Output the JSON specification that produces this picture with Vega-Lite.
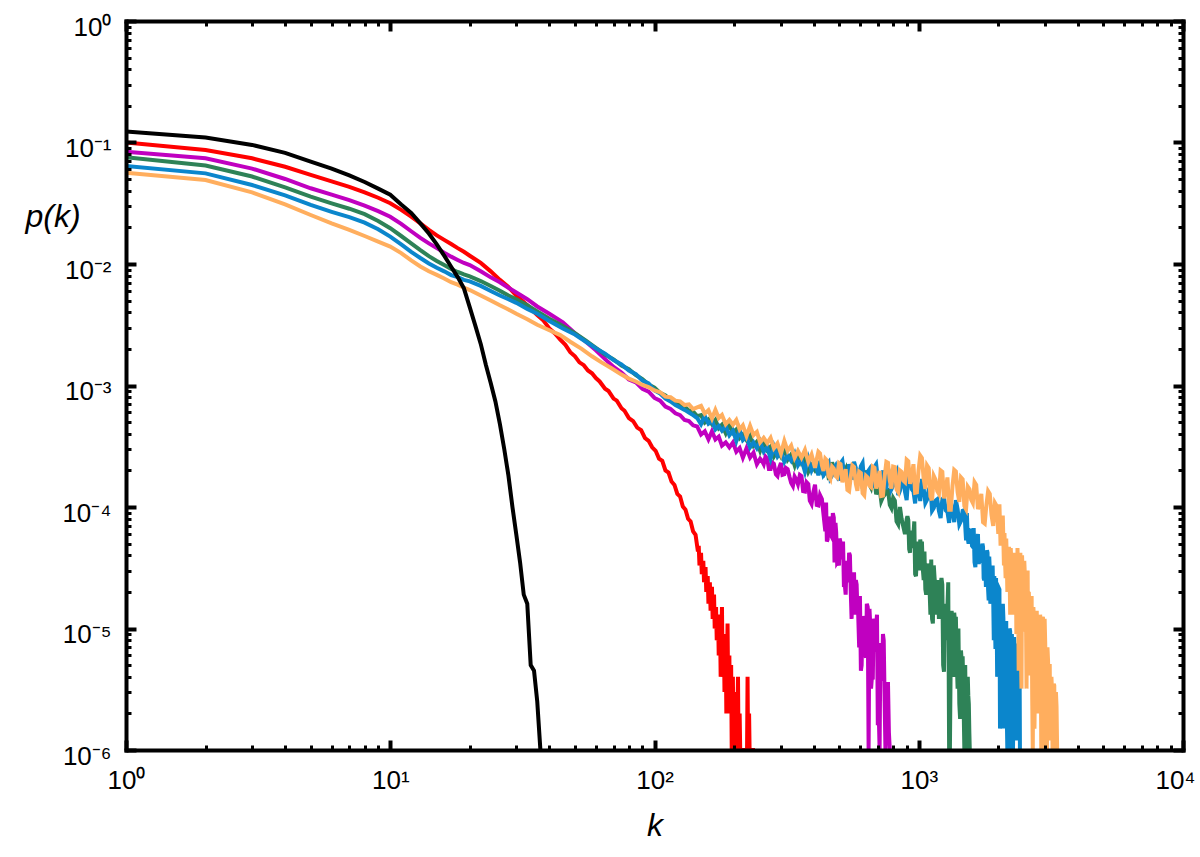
{
"$schema": "https://vega.github.io/schema/vega-lite/v6.json",
"width": 1057, "height": 729,
"autosize": {"type": "none"},
"padding": {"left": 126, "top": 21, "right": 17, "bottom": 107},
"background": "white",
"config": {"view": {"stroke": null}, "font": "Liberation Sans"},
"data": {"values": [
{"s":"red","k":1,"p":0.100},{"s":"red","k":2,"p":0.0867},{"s":"red","k":3,"p":0.0741},{"s":"red","k":4,"p":0.0631},{"s":"red","k":5,"p":0.0541},{"s":"red","k":6,"p":0.0479},{"s":"red","k":7,"p":0.0432},{"s":"red","k":8,"p":0.0389},{"s":"red","k":9,"p":0.0351},{"s":"red","k":10,"p":0.0316},
{"s":"red","k":11,"p":0.0279},{"s":"red","k":12,"p":0.0245},{"s":"red","k":13,"p":0.0216},{"s":"red","k":14,"p":0.0191},{"s":"red","k":15,"p":0.0172},{"s":"red","k":16,"p":0.0158},{"s":"red","k":17,"p":0.0146},{"s":"red","k":18,"p":0.0135},{"s":"red","k":19,"p":0.0126},{"s":"red","k":20,"p":0.0117},
{"s":"red","k":22,"p":0.0102},{"s":"red","k":24,"p":0.0087},{"s":"red","k":26,"p":0.0074},{"s":"red","k":28,"p":0.00646},{"s":"red","k":30,"p":0.0055},{"s":"red","k":33,"p":0.00457},{"s":"red","k":36,"p":0.0038},{"s":"red","k":38,"p":0.00342},{"s":"red","k":40,"p":0.00295},{"s":"red","k":42,"p":0.00268},
{"s":"red","k":44,"p":0.00238},{"s":"red","k":46,"p":0.00216},{"s":"red","k":48,"p":0.00188},{"s":"red","k":50,"p":0.00174},{"s":"red","k":52,"p":0.00155},{"s":"red","k":54,"p":0.00147},{"s":"red","k":56,"p":0.00133},{"s":"red","k":58,"p":0.00126},{"s":"red","k":60,"p":0.00115},{"s":"red","k":62,"p":0.00108},
{"s":"red","k":65,"p":0.00094},{"s":"red","k":67,"p":0.0009},{"s":"red","k":70,"p":0.00078},{"s":"red","k":72,"p":0.00075},{"s":"red","k":75,"p":0.00065},{"s":"red","k":77,"p":0.00062},{"s":"red","k":80,"p":0.00054},{"s":"red","k":83,"p":0.00051},{"s":"red","k":86,"p":0.00045},{"s":"red","k":89,"p":0.00043},
{"s":"red","k":92,"p":0.00037},{"s":"red","k":95,"p":0.00035},{"s":"red","k":98,"p":0.00031},{"s":"red","k":101,"p":0.00029},{"s":"red","k":104,"p":0.00025},{"s":"red","k":107,"p":0.00024},{"s":"red","k":110,"p":0.0002},{"s":"red","k":113,"p":0.000192},{"s":"red","k":116,"p":0.000162},{"s":"red","k":119,"p":0.000152},
{"s":"red","k":122,"p":0.000128},{"s":"red","k":125,"p":0.000122},{"s":"red","k":128,"p":0.000101},{"s":"red","k":131,"p":9.5e-5},{"s":"red","k":134,"p":8.0e-5},{"s":"red","k":137,"p":7.6e-5},{"s":"red","k":140,"p":6.3e-5},{"s":"red","k":143,"p":5.9e-5},{"s":"red","k":146,"p":4.3e-5},{"s":"red","k":147,"p":4.8e-5},
{"s":"red","k":148,"p":3.3e-5},{"s":"red","k":150,"p":4.2e-5},{"s":"red","k":151,"p":2.8e-5},{"s":"red","k":153,"p":3.6e-5},{"s":"red","k":154,"p":2.4e-5},{"s":"red","k":156,"p":3.2e-5},{"s":"red","k":157,"p":2.0e-5},{"s":"red","k":159,"p":2.7e-5},{"s":"red","k":160,"p":1.6e-5},{"s":"red","k":162,"p":2.4e-5},
{"s":"red","k":163,"p":1.4e-5},{"s":"red","k":165,"p":2.2e-5},{"s":"red","k":166,"p":1.2e-5},{"s":"red","k":168,"p":1.9e-5},{"s":"red","k":169,"p":1.0e-5},{"s":"red","k":171,"p":1.5e-5},{"s":"red","k":172,"p":8e-6},{"s":"red","k":174,"p":1.3e-5},{"s":"red","k":175,"p":6e-6},{"s":"red","k":177,"p":1.1e-5},
{"s":"red","k":178,"p":4e-6},{"s":"red","k":180,"p":1.5e-5},{"s":"red","k":181,"p":5e-6},{"s":"red","k":183,"p":9e-6},{"s":"red","k":184,"p":3e-6},{"s":"red","k":186,"p":8e-6},{"s":"red","k":187,"p":2e-6},{"s":"red","k":189,"p":1.1e-5},{"s":"red","k":190,"p":3e-6},{"s":"red","k":192,"p":6e-6},
{"s":"red","k":193,"p":2e-6},{"s":"red","k":195,"p":5e-6},{"s":"red","k":196,"p":1e-6},{"s":"red","k":198,"p":4e-6},{"s":"red","k":199,"p":1e-6},{"s":"red","k":201,"p":2e-6},{"s":"red","k":202,"p":1e-6},{"s":"red","k":204,"p":3e-6},{"s":"red","k":205,"p":1e-6},{"s":"red","k":207,"p":4e-6},
{"s":"red","k":208,"p":1e-6},{"s":"red","k":210,"p":2e-6},{"s":"red","k":211,"p":1e-6},{"s":"red","k":224,"p":1e-6},{"s":"red","k":225,"p":4e-6},{"s":"red","k":226,"p":1e-6},{"s":"red","k":228,"p":2e-6},{"s":"red","k":229,"p":1e-6},{"s":"red","k":240,"p":1e-6},

{"s":"magenta","k":1,"p":0.0839},{"s":"magenta","k":2,"p":0.0741},{"s":"magenta","k":3,"p":0.061},{"s":"magenta","k":4,"p":0.0501},{"s":"magenta","k":5,"p":0.042},{"s":"magenta","k":6,"p":0.0372},{"s":"magenta","k":7,"p":0.0335},{"s":"magenta","k":8,"p":0.0302},{"s":"magenta","k":9,"p":0.0272},{"s":"magenta","k":10,"p":0.0245},
{"s":"magenta","k":11,"p":0.0214},{"s":"magenta","k":12,"p":0.0186},{"s":"magenta","k":13,"p":0.0164},{"s":"magenta","k":14,"p":0.0148},{"s":"magenta","k":15,"p":0.0135},{"s":"magenta","k":16,"p":0.0124},{"s":"magenta","k":17,"p":0.0115},{"s":"magenta","k":18,"p":0.0108},{"s":"magenta","k":19,"p":0.0102},{"s":"magenta","k":20,"p":0.0098},
{"s":"magenta","k":22,"p":0.0087},{"s":"magenta","k":24,"p":0.00776},{"s":"magenta","k":26,"p":0.00708},{"s":"magenta","k":28,"p":0.00638},{"s":"magenta","k":30,"p":0.00582},{"s":"magenta","k":33,"p":0.00513},{"s":"magenta","k":36,"p":0.00447},{"s":"magenta","k":40,"p":0.00389},{"s":"magenta","k":45,"p":0.00331},{"s":"magenta","k":50,"p":0.00269},
{"s":"magenta","k":55,"p":0.00229},{"s":"magenta","k":60,"p":0.00195},{"s":"magenta","k":65,"p":0.00165},{"s":"magenta","k":70,"p":0.00142},{"s":"magenta","k":75,"p":0.00128},{"s":"magenta","k":80,"p":0.00112},{"s":"magenta","k":85,"p":0.00106},{"s":"magenta","k":90,"p":0.00094},{"s":"magenta","k":95,"p":0.00089},{"s":"magenta","k":100,"p":0.00079},
{"s":"magenta","k":105,"p":0.00075},{"s":"magenta","k":110,"p":0.00067},{"s":"magenta","k":115,"p":0.00064},{"s":"magenta","k":120,"p":0.00059},{"s":"magenta","k":125,"p":0.00057},{"s":"magenta","k":130,"p":0.00052},{"s":"magenta","k":135,"p":0.00051},{"s":"magenta","k":140,"p":0.00047},{"s":"magenta","k":145,"p":0.00046},
{"s":"magenta","k":150,"p":3.95e-4},{"s":"magenta","k":155,"p":4.2e-4},{"s":"magenta","k":160,"p":3.6e-4},{"s":"magenta","k":165,"p":4.2e-4},{"s":"magenta","k":170,"p":3.6e-4},{"s":"magenta","k":175,"p":3.8e-4},{"s":"magenta","k":180,"p":3.2e-4},{"s":"magenta","k":186,"p":3.4e-4},{"s":"magenta","k":192,"p":3.1e-4},{"s":"magenta","k":198,"p":3.4e-4},
{"s":"magenta","k":204,"p":2.85e-4},{"s":"magenta","k":210,"p":3.05e-4},{"s":"magenta","k":216,"p":2.55e-4},{"s":"magenta","k":223,"p":3.05e-4},{"s":"magenta","k":230,"p":2.55e-4},{"s":"magenta","k":237,"p":2.8e-4},{"s":"magenta","k":244,"p":2.25e-4},{"s":"magenta","k":251,"p":2.5e-4},{"s":"magenta","k":259,"p":2.25e-4},{"s":"magenta","k":267,"p":2.5e-4},
{"s":"magenta","k":275,"p":2.05e-4},{"s":"magenta","k":283,"p":2.27e-4},{"s":"magenta","k":292,"p":1.8e-4},{"s":"magenta","k":301,"p":2.3e-4},{"s":"magenta","k":310,"p":1.86e-4},{"s":"magenta","k":319,"p":2.05e-4},{"s":"magenta","k":329,"p":1.58e-4},{"s":"magenta","k":339,"p":1.78e-4},{"s":"magenta","k":349,"p":1.54e-4},{"s":"magenta","k":360,"p":1.8e-4},
{"s":"magenta","k":371,"p":1.34e-4},{"s":"magenta","k":382,"p":1.54e-4},{"s":"magenta","k":393,"p":1.06e-4},{"s":"magenta","k":405,"p":1.53e-4},{"s":"magenta","k":417,"p":1.03e-4},{"s":"magenta","k":430,"p":1.16e-4},{"s":"magenta","k":443,"p":6.3e-5},{"s":"magenta","k":456,"p":8.3e-5},{"s":"magenta","k":470,"p":5.6e-5},{"s":"magenta","k":484,"p":7.4e-5},
{"s":"magenta","k":499,"p":3.3e-5},{"s":"magenta","k":514,"p":4.7e-5},{"s":"magenta","k":529,"p":1.9e-5},{"s":"magenta","k":545,"p":4.2e-5},{"s":"magenta","k":561,"p":2.0e-5},{"s":"magenta","k":578,"p":2.5e-5},{"s":"magenta","k":595,"p":7e-6},{"s":"magenta","k":613,"p":1.26e-5},{"s":"magenta","k":632,"p":5.8e-6},{"s":"magenta","k":651,"p":1.45e-5},
{"s":"magenta","k":670,"p":3.8e-6},{"s":"magenta","k":690,"p":1.05e-5},{"s":"magenta","k":711,"p":1e-6},{"s":"magenta","k":732,"p":9e-6},{"s":"magenta","k":754,"p":2.4e-6},{"s":"magenta","k":777,"p":1e-6},
{"s":"magenta","k":255,"p":2.4e-4},{"s":"magenta","k":263,"p":2.6e-4},{"s":"magenta","k":271,"p":2.05e-4},{"s":"magenta","k":279,"p":2.33e-4},{"s":"magenta","k":288,"p":1.86e-4},{"s":"magenta","k":296,"p":2.08e-4},{"s":"magenta","k":305,"p":1.84e-4},{"s":"magenta","k":314,"p":2.1e-4},{"s":"magenta","k":324,"p":1.78e-4},{"s":"magenta","k":334,"p":1.49e-4},
{"s":"magenta","k":344,"p":1.68e-4},{"s":"magenta","k":355,"p":1.84e-4},{"s":"magenta","k":365,"p":1.35e-4},{"s":"magenta","k":376,"p":1.6e-4},{"s":"magenta","k":387,"p":1.13e-4},{"s":"magenta","k":399,"p":1.32e-4},{"s":"magenta","k":411,"p":1.04e-4},{"s":"magenta","k":423,"p":1.25e-4},{"s":"magenta","k":436,"p":8.7e-5},{"s":"magenta","k":449,"p":5.2e-5},
{"s":"magenta","k":463,"p":7.2e-5},{"s":"magenta","k":477,"p":8.2e-5},{"s":"magenta","k":491,"p":3.5e-5},{"s":"magenta","k":506,"p":5.1e-5},{"s":"magenta","k":521,"p":2.2e-5},{"s":"magenta","k":537,"p":3.3e-5},{"s":"magenta","k":553,"p":2.0e-5},{"s":"magenta","k":569,"p":2.9e-5},{"s":"magenta","k":586,"p":1.4e-5},{"s":"magenta","k":604,"p":4.5e-6},
{"s":"magenta","k":622,"p":1.0e-5},{"s":"magenta","k":641,"p":1.5e-5},{"s":"magenta","k":660,"p":3.2e-6},{"s":"magenta","k":680,"p":1.15e-5},{"s":"magenta","k":700,"p":1.6e-6},{"s":"magenta","k":721,"p":6.5e-6},{"s":"magenta","k":743,"p":2.5e-6},{"s":"magenta","k":765,"p":3.5e-6},
{"s":"magenta","k":446,"p":1.09e-4},{"s":"magenta","k":452,"p":5.4e-5},{"s":"magenta","k":459,"p":7.9e-5},{"s":"magenta","k":466,"p":5.8e-5},{"s":"magenta","k":473,"p":8.9e-5},{"s":"magenta","k":480,"p":3.5e-5},{"s":"magenta","k":487,"p":6.2e-5},{"s":"magenta","k":495,"p":3.6e-5},{"s":"magenta","k":502,"p":5.5e-5},{"s":"magenta","k":510,"p":3.7e-5},
{"s":"magenta","k":517,"p":5.2e-5},{"s":"magenta","k":525,"p":2.3e-5},{"s":"magenta","k":533,"p":3.6e-5},{"s":"magenta","k":541,"p":2.4e-5},{"s":"magenta","k":549,"p":4.0e-5},{"s":"magenta","k":557,"p":1.2e-5},{"s":"magenta","k":565,"p":2.7e-5},{"s":"magenta","k":573,"p":1.3e-5},{"s":"magenta","k":582,"p":2.3e-5},{"s":"magenta","k":590,"p":1.3e-5},
{"s":"magenta","k":599,"p":1.85e-5},{"s":"magenta","k":608,"p":5e-6},{"s":"magenta","k":617,"p":1.2e-5},{"s":"magenta","k":627,"p":6e-6},{"s":"magenta","k":636,"p":1.6e-5},{"s":"magenta","k":646,"p":1e-6},{"s":"magenta","k":655,"p":1.1e-5},{"s":"magenta","k":665,"p":4e-6},{"s":"magenta","k":675,"p":1.2e-5},{"s":"magenta","k":685,"p":6.4e-6},
{"s":"magenta","k":695,"p":1.3e-5},{"s":"magenta","k":705,"p":2.2e-6},{"s":"magenta","k":716,"p":7.6e-6},{"s":"magenta","k":726,"p":3.7e-6},{"s":"magenta","k":737,"p":8e-6},{"s":"magenta","k":748,"p":1e-6},{"s":"magenta","k":759,"p":3.5e-6},{"s":"magenta","k":771,"p":1.4e-6},

{"s":"green","k":1,"p":0.0755},{"s":"green","k":2,"p":0.0646},{"s":"green","k":3,"p":0.0525},{"s":"green","k":4,"p":0.0427},{"s":"green","k":5,"p":0.0358},{"s":"green","k":6,"p":0.0316},{"s":"green","k":7,"p":0.0285},{"s":"green","k":8,"p":0.0257},{"s":"green","k":9,"p":0.0226},{"s":"green","k":10,"p":0.0197},
{"s":"green","k":11,"p":0.017},{"s":"green","k":12,"p":0.0148},{"s":"green","k":13,"p":0.013},{"s":"green","k":14,"p":0.0116},{"s":"green","k":15,"p":0.0106},{"s":"green","k":16,"p":0.0098},{"s":"green","k":17,"p":0.0091},{"s":"green","k":18,"p":0.0086},{"s":"green","k":19,"p":0.0082},{"s":"green","k":20,"p":0.0079},
{"s":"green","k":22,"p":0.00724},{"s":"green","k":24,"p":0.0066},{"s":"green","k":26,"p":0.00603},{"s":"green","k":28,"p":0.0055},{"s":"green","k":30,"p":0.00513},{"s":"green","k":33,"p":0.00457},{"s":"green","k":36,"p":0.00407},{"s":"green","k":40,"p":0.00355},{"s":"green","k":45,"p":0.00309},{"s":"green","k":50,"p":0.00269},
{"s":"green","k":55,"p":0.00234},{"s":"green","k":60,"p":0.00204},{"s":"green","k":65,"p":0.0018},{"s":"green","k":70,"p":0.00164},{"s":"green","k":75,"p":0.00146},{"s":"green","k":80,"p":0.00136},{"s":"green","k":85,"p":0.00122},{"s":"green","k":90,"p":0.00113},{"s":"green","k":95,"p":0.00102},{"s":"green","k":100,"p":0.00096},
{"s":"green","k":105,"p":0.00087},{"s":"green","k":110,"p":0.00083},{"s":"green","k":115,"p":0.00076},{"s":"green","k":120,"p":0.00074},{"s":"green","k":125,"p":0.00068},{"s":"green","k":130,"p":0.00067},{"s":"green","k":135,"p":0.00062},{"s":"green","k":140,"p":0.00061},{"s":"green","k":145,"p":0.00056},
{"s":"green","k":150,"p":5.7e-4},{"s":"green","k":155,"p":4.95e-4},{"s":"green","k":160,"p":5.25e-4},{"s":"green","k":165,"p":4.8e-4},{"s":"green","k":170,"p":5.2e-4},{"s":"green","k":175,"p":4.45e-4},{"s":"green","k":180,"p":4.75e-4},{"s":"green","k":186,"p":4.05e-4},{"s":"green","k":192,"p":4.75e-4},{"s":"green","k":198,"p":4.1e-4},
{"s":"green","k":204,"p":4.35e-4},{"s":"green","k":210,"p":3.7e-4},{"s":"green","k":216,"p":3.95e-4},{"s":"green","k":223,"p":3.55e-4},{"s":"green","k":230,"p":3.85e-4},{"s":"green","k":237,"p":3.2e-4},{"s":"green","k":244,"p":3.45e-4},{"s":"green","k":251,"p":2.9e-4},{"s":"green","k":259,"p":3.5e-4},{"s":"green","k":267,"p":2.95e-4},
{"s":"green","k":275,"p":3.15e-4},{"s":"green","k":283,"p":2.6e-4},{"s":"green","k":292,"p":2.9e-4},{"s":"green","k":301,"p":2.6e-4},{"s":"green","k":310,"p":3.0e-4},{"s":"green","k":319,"p":2.45e-4},{"s":"green","k":329,"p":2.7e-4},{"s":"green","k":339,"p":2.2e-4},{"s":"green","k":349,"p":2.75e-4},{"s":"green","k":360,"p":2.3e-4},
{"s":"green","k":371,"p":2.5e-4},{"s":"green","k":382,"p":1.95e-4},{"s":"green","k":393,"p":2.2e-4},{"s":"green","k":405,"p":2.0e-4},{"s":"green","k":417,"p":2.3e-4},{"s":"green","k":430,"p":1.9e-4},{"s":"green","k":443,"p":2.18e-4},{"s":"green","k":456,"p":1.74e-4},{"s":"green","k":470,"p":2.34e-4},{"s":"green","k":484,"p":1.9e-4},
{"s":"green","k":499,"p":2.2e-4},{"s":"green","k":514,"p":1.72e-4},{"s":"green","k":529,"p":2.05e-4},{"s":"green","k":545,"p":1.8e-4},{"s":"green","k":561,"p":2.2e-4},{"s":"green","k":578,"p":1.66e-4},{"s":"green","k":595,"p":2.0e-4},{"s":"green","k":613,"p":1.46e-4},{"s":"green","k":632,"p":2.0e-4},{"s":"green","k":651,"p":1.53e-4},
{"s":"green","k":670,"p":1.7e-4},{"s":"green","k":690,"p":1.27e-4},{"s":"green","k":711,"p":1.43e-4},{"s":"green","k":732,"p":1.21e-4},{"s":"green","k":754,"p":1.39e-4},{"s":"green","k":777,"p":1.04e-4},{"s":"green","k":800,"p":1.19e-4},{"s":"green","k":824,"p":7.6e-5},{"s":"green","k":849,"p":1.0e-4},{"s":"green","k":874,"p":6.9e-5},
{"s":"green","k":900,"p":7.9e-5},{"s":"green","k":927,"p":4.2e-5},{"s":"green","k":955,"p":6.0e-5},{"s":"green","k":984,"p":3.9e-5},{"s":"green","k":1013,"p":5.4e-5},{"s":"green","k":1044,"p":2.5e-5},{"s":"green","k":1075,"p":3.4e-5},{"s":"green","k":1107,"p":1.3e-5},{"s":"green","k":1140,"p":3.3e-5},{"s":"green","k":1175,"p":1.6e-5},
{"s":"green","k":1210,"p":2.3e-5},{"s":"green","k":1246,"p":4.4e-6},{"s":"green","k":1284,"p":1.5e-5},{"s":"green","k":1322,"p":6.7e-6},{"s":"green","k":1362,"p":1.35e-5},{"s":"green","k":1403,"p":3.2e-6},{"s":"green","k":1445,"p":6.6e-6},{"s":"green","k":1488,"p":1e-6},{"s":"green","k":1533,"p":4e-6},{"s":"green","k":1560,"p":1e-6},
{"s":"green","k":411,"p":2.1e-4},{"s":"green","k":423,"p":2.35e-4},{"s":"green","k":436,"p":1.86e-4},{"s":"green","k":449,"p":2.2e-4},{"s":"green","k":463,"p":1.76e-4},{"s":"green","k":477,"p":2.06e-4},{"s":"green","k":491,"p":1.85e-4},{"s":"green","k":506,"p":2.22e-4},{"s":"green","k":521,"p":1.91e-4},{"s":"green","k":537,"p":1.6e-4},
{"s":"green","k":553,"p":1.92e-4},{"s":"green","k":569,"p":2.22e-4},{"s":"green","k":586,"p":1.62e-4},{"s":"green","k":604,"p":2.02e-4},{"s":"green","k":622,"p":1.46e-4},{"s":"green","k":641,"p":1.69e-4},{"s":"green","k":660,"p":1.44e-4},{"s":"green","k":680,"p":1.68e-4},{"s":"green","k":700,"p":1.38e-4},{"s":"green","k":721,"p":1.12e-4},
{"s":"green","k":743,"p":1.26e-4},{"s":"green","k":765,"p":1.38e-4},{"s":"green","k":788,"p":9.8e-5},{"s":"green","k":812,"p":1.13e-4},{"s":"green","k":836,"p":7.2e-5},{"s":"green","k":861,"p":8.0e-5},{"s":"green","k":887,"p":6.0e-5},{"s":"green","k":913,"p":7.8e-5},{"s":"green","k":941,"p":5.2e-5},{"s":"green","k":969,"p":2.8e-5},
{"s":"green","k":998,"p":4.35e-5},{"s":"green","k":1028,"p":5.2e-5},{"s":"green","k":1059,"p":2.1e-5},{"s":"green","k":1091,"p":3.4e-5},{"s":"green","k":1123,"p":1.2e-5},{"s":"green","k":1157,"p":2.2e-5},{"s":"green","k":1192,"p":1.2e-5},{"s":"green","k":1228,"p":2.3e-5},{"s":"green","k":1265,"p":1.1e-5},{"s":"green","k":1303,"p":1e-6},
{"s":"green","k":1342,"p":9e-6},{"s":"green","k":1382,"p":1.25e-5},{"s":"green","k":1424,"p":2.4e-6},{"s":"green","k":1466,"p":5.9e-6},{"s":"green","k":1510,"p":1.2e-6},{"s":"green","k":1547,"p":2.4e-6},
{"s":"green","k":906,"p":8.4e-5},{"s":"green","k":920,"p":4.5e-5},{"s":"green","k":934,"p":6.4e-5},{"s":"green","k":948,"p":4.6e-5},{"s":"green","k":962,"p":7.6e-5},{"s":"green","k":976,"p":2.7e-5},{"s":"green","k":991,"p":5.2e-5},{"s":"green","k":1005,"p":3.0e-5},{"s":"green","k":1020,"p":4.8e-5},{"s":"green","k":1036,"p":3.1e-5},
{"s":"green","k":1051,"p":4.3e-5},{"s":"green","k":1067,"p":1.9e-5},{"s":"green","k":1083,"p":3.1e-5},{"s":"green","k":1099,"p":2.1e-5},{"s":"green","k":1115,"p":3.7e-5},{"s":"green","k":1131,"p":1.1e-5},{"s":"green","k":1148,"p":2.6e-5},{"s":"green","k":1166,"p":1.3e-5},{"s":"green","k":1183,"p":2.5e-5},{"s":"green","k":1201,"p":1.5e-5},
{"s":"green","k":1219,"p":2.6e-5},{"s":"green","k":1237,"p":5e-6},{"s":"green","k":1255,"p":1.6e-5},{"s":"green","k":1274,"p":8e-6},{"s":"green","k":1293,"p":2.4e-5},{"s":"green","k":1312,"p":1e-6},{"s":"green","k":1332,"p":1.4e-5},{"s":"green","k":1352,"p":4e-6},{"s":"green","k":1372,"p":1.14e-5},{"s":"green","k":1392,"p":5.6e-6},
{"s":"green","k":1413,"p":1.0e-5},{"s":"green","k":1434,"p":1.8e-6},{"s":"green","k":1455,"p":5.2e-6},{"s":"green","k":1477,"p":2.6e-6},{"s":"green","k":1499,"p":5e-6},{"s":"green","k":1521,"p":1e-6},{"s":"green","k":1540,"p":2.8e-6},{"s":"green","k":1554,"p":1.4e-6},

{"s":"blue","k":1,"p":0.0641},{"s":"blue","k":2,"p":0.0557},{"s":"blue","k":3,"p":0.0447},{"s":"blue","k":4,"p":0.0367},{"s":"blue","k":5,"p":0.0306},{"s":"blue","k":6,"p":0.0269},{"s":"blue","k":7,"p":0.0243},{"s":"blue","k":8,"p":0.0219},{"s":"blue","k":9,"p":0.0193},{"s":"blue","k":10,"p":0.0168},
{"s":"blue","k":11,"p":0.0145},{"s":"blue","k":12,"p":0.0126},{"s":"blue","k":13,"p":0.0112},{"s":"blue","k":14,"p":0.0101},{"s":"blue","k":15,"p":0.0093},{"s":"blue","k":16,"p":0.0087},{"s":"blue","k":17,"p":0.0081},{"s":"blue","k":18,"p":0.0078},{"s":"blue","k":19,"p":0.0074},{"s":"blue","k":20,"p":0.0072},
{"s":"blue","k":22,"p":0.0066},{"s":"blue","k":24,"p":0.006},{"s":"blue","k":26,"p":0.0055},{"s":"blue","k":28,"p":0.00513},{"s":"blue","k":30,"p":0.00479},{"s":"blue","k":33,"p":0.00427},{"s":"blue","k":36,"p":0.00389},{"s":"blue","k":40,"p":0.00339},{"s":"blue","k":45,"p":0.00295},{"s":"blue","k":50,"p":0.00263},
{"s":"blue","k":55,"p":0.00229},{"s":"blue","k":60,"p":0.00202},{"s":"blue","k":65,"p":0.00183},{"s":"blue","k":70,"p":0.00162},{"s":"blue","k":75,"p":0.00149},{"s":"blue","k":80,"p":0.00133},{"s":"blue","k":85,"p":0.00124},{"s":"blue","k":90,"p":0.0011},{"s":"blue","k":95,"p":0.00104},{"s":"blue","k":100,"p":0.00091},
{"s":"blue","k":105,"p":0.00086},{"s":"blue","k":110,"p":0.00078},{"s":"blue","k":115,"p":0.00074},{"s":"blue","k":120,"p":0.00069},{"s":"blue","k":125,"p":0.00066},{"s":"blue","k":130,"p":0.00063},{"s":"blue","k":135,"p":0.0006},{"s":"blue","k":140,"p":0.00057},{"s":"blue","k":145,"p":0.00054},
{"s":"blue","k":150,"p":4.8e-4},{"s":"blue","k":155,"p":5.6e-4},{"s":"blue","k":160,"p":4.85e-4},{"s":"blue","k":165,"p":5.1e-4},{"s":"blue","k":170,"p":4.35e-4},{"s":"blue","k":175,"p":4.65e-4},{"s":"blue","k":180,"p":4.25e-4},{"s":"blue","k":186,"p":4.65e-4},{"s":"blue","k":192,"p":3.9e-4},{"s":"blue","k":198,"p":4.25e-4},
{"s":"blue","k":204,"p":3.5e-4},{"s":"blue","k":210,"p":4.3e-4},{"s":"blue","k":216,"p":3.55e-4},{"s":"blue","k":223,"p":3.8e-4},{"s":"blue","k":230,"p":3.1e-4},{"s":"blue","k":237,"p":3.4e-4},{"s":"blue","k":244,"p":3.05e-4},{"s":"blue","k":251,"p":3.45e-4},{"s":"blue","k":259,"p":2.85e-4},{"s":"blue","k":267,"p":3.1e-4},
{"s":"blue","k":275,"p":2.5e-4},{"s":"blue","k":283,"p":3.15e-4},{"s":"blue","k":292,"p":2.6e-4},{"s":"blue","k":301,"p":2.85e-4},{"s":"blue","k":310,"p":2.35e-4},{"s":"blue","k":319,"p":2.65e-4},{"s":"blue","k":329,"p":2.4e-4},{"s":"blue","k":339,"p":2.75e-4},{"s":"blue","k":349,"p":2.2e-4},{"s":"blue","k":360,"p":2.45e-4},
{"s":"blue","k":371,"p":1.95e-4},{"s":"blue","k":382,"p":2.5e-4},{"s":"blue","k":393,"p":2.0e-4},{"s":"blue","k":405,"p":2.3e-4},{"s":"blue","k":417,"p":1.82e-4},{"s":"blue","k":430,"p":2.15e-4},{"s":"blue","k":443,"p":1.92e-4},{"s":"blue","k":456,"p":2.33e-4},{"s":"blue","k":470,"p":1.82e-4},{"s":"blue","k":484,"p":2.18e-4},
{"s":"blue","k":499,"p":1.65e-4},{"s":"blue","k":514,"p":2.4e-4},{"s":"blue","k":529,"p":1.9e-4},{"s":"blue","k":545,"p":2.25e-4},{"s":"blue","k":561,"p":1.68e-4},{"s":"blue","k":578,"p":2.1e-4},{"s":"blue","k":595,"p":1.83e-4},{"s":"blue","k":613,"p":2.3e-4},{"s":"blue","k":632,"p":1.68e-4},{"s":"blue","k":651,"p":2.05e-4},
{"s":"blue","k":670,"p":1.45e-4},{"s":"blue","k":690,"p":2.25e-4},{"s":"blue","k":711,"p":1.68e-4},{"s":"blue","k":732,"p":2.0e-4},{"s":"blue","k":754,"p":1.4e-4},{"s":"blue","k":777,"p":1.8e-4},{"s":"blue","k":800,"p":1.5e-4},{"s":"blue","k":824,"p":1.97e-4},{"s":"blue","k":849,"p":1.36e-4},{"s":"blue","k":874,"p":1.7e-4},
{"s":"blue","k":900,"p":1.14e-4},{"s":"blue","k":927,"p":1.87e-4},{"s":"blue","k":955,"p":1.34e-4},{"s":"blue","k":984,"p":1.65e-4},{"s":"blue","k":1013,"p":1.12e-4},{"s":"blue","k":1044,"p":1.42e-4},{"s":"blue","k":1075,"p":1.15e-4},{"s":"blue","k":1107,"p":1.45e-4},{"s":"blue","k":1140,"p":9.8e-5},{"s":"blue","k":1175,"p":1.16e-4},
{"s":"blue","k":1210,"p":8.1e-5},{"s":"blue","k":1246,"p":1.2e-4},{"s":"blue","k":1284,"p":9.1e-5},{"s":"blue","k":1322,"p":1.1e-4},{"s":"blue","k":1362,"p":7.5e-5},{"s":"blue","k":1403,"p":9.6e-5},{"s":"blue","k":1445,"p":7.7e-5},{"s":"blue","k":1488,"p":9.4e-5},{"s":"blue","k":1533,"p":5.5e-5},{"s":"blue","k":1579,"p":6.6e-5},
{"s":"blue","k":1626,"p":3.5e-5},{"s":"blue","k":1675,"p":6.0e-5},{"s":"blue","k":1725,"p":3.6e-5},{"s":"blue","k":1777,"p":4.2e-5},{"s":"blue","k":1830,"p":2.1e-5},{"s":"blue","k":1885,"p":2.6e-5},{"s":"blue","k":1942,"p":1.2e-5},{"s":"blue","k":2000,"p":2.0e-5},{"s":"blue","k":2060,"p":4.2e-6},{"s":"blue","k":2122,"p":8.7e-6},
{"s":"blue","k":2185,"p":1e-6},{"s":"blue","k":2251,"p":9e-6},{"s":"blue","k":2318,"p":3.5e-6},{"s":"blue","k":2388,"p":5.8e-6},{"s":"blue","k":2415,"p":1e-6},
{"s":"blue","k":411,"p":2.08e-4},{"s":"blue","k":423,"p":2.37e-4},{"s":"blue","k":436,"p":1.83e-4},{"s":"blue","k":449,"p":2.23e-4},{"s":"blue","k":463,"p":1.73e-4},{"s":"blue","k":477,"p":2.07e-4},{"s":"blue","k":491,"p":1.84e-4},{"s":"blue","k":506,"p":2.29e-4},{"s":"blue","k":521,"p":1.94e-4},{"s":"blue","k":537,"p":1.62e-4},
{"s":"blue","k":553,"p":2.0e-4},{"s":"blue","k":569,"p":2.36e-4},{"s":"blue","k":586,"p":1.7e-4},{"s":"blue","k":604,"p":2.17e-4},{"s":"blue","k":622,"p":1.57e-4},{"s":"blue","k":641,"p":1.95e-4},{"s":"blue","k":660,"p":1.67e-4},{"s":"blue","k":680,"p":2.14e-4},{"s":"blue","k":700,"p":1.73e-4},{"s":"blue","k":721,"p":1.37e-4},
{"s":"blue","k":743,"p":1.75e-4},{"s":"blue","k":765,"p":2.09e-4},{"s":"blue","k":788,"p":1.4e-4},{"s":"blue","k":812,"p":1.86e-4},{"s":"blue","k":836,"p":1.25e-4},{"s":"blue","k":861,"p":1.61e-4},{"s":"blue","k":887,"p":1.34e-4},{"s":"blue","k":913,"p":1.77e-4},{"s":"blue","k":941,"p":1.4e-4},{"s":"blue","k":969,"p":1.07e-4},
{"s":"blue","k":998,"p":1.42e-4},{"s":"blue","k":1028,"p":1.7e-4},{"s":"blue","k":1059,"p":1.08e-4},{"s":"blue","k":1091,"p":1.4e-4},{"s":"blue","k":1123,"p":9.3e-5},{"s":"blue","k":1157,"p":1.13e-4},{"s":"blue","k":1192,"p":9.3e-5},{"s":"blue","k":1228,"p":1.16e-4},{"s":"blue","k":1265,"p":9.4e-5},{"s":"blue","k":1303,"p":7.4e-5},
{"s":"blue","k":1342,"p":9.4e-5},{"s":"blue","k":1382,"p":1.14e-4},{"s":"blue","k":1424,"p":7.2e-5},{"s":"blue","k":1466,"p":9.3e-5},{"s":"blue","k":1510,"p":5.3e-5},{"s":"blue","k":1556,"p":6.4e-5},{"s":"blue","k":1602,"p":4.7e-5},{"s":"blue","k":1650,"p":5.9e-5},{"s":"blue","k":1700,"p":3.9e-5},
{"s":"blue","k":1742,"p":5.0e-5},{"s":"blue","k":1760,"p":2.6e-5},{"s":"blue","k":1795,"p":2.2e-5},{"s":"blue","k":1812,"p":4.4e-5},{"s":"blue","k":1848,"p":3.9e-5},{"s":"blue","k":1866,"p":1.6e-5},{"s":"blue","k":1904,"p":3.3e-5},{"s":"blue","k":1923,"p":8e-6},{"s":"blue","k":1961,"p":2.6e-5},{"s":"blue","k":1980,"p":4e-6},
{"s":"blue","k":2020,"p":2.1e-5},{"s":"blue","k":2040,"p":2.5e-6},{"s":"blue","k":2081,"p":1.6e-5},{"s":"blue","k":2101,"p":1.5e-6},{"s":"blue","k":2143,"p":1.15e-5},{"s":"blue","k":2164,"p":1e-6},{"s":"blue","k":2207,"p":1.0e-5},{"s":"blue","k":2229,"p":2e-6},{"s":"blue","k":2273,"p":1e-6},{"s":"blue","k":2296,"p":8.5e-6},
{"s":"blue","k":2341,"p":1.2e-6},{"s":"blue","k":2364,"p":7.5e-6},{"s":"blue","k":2397,"p":1.5e-6},{"s":"blue","k":2406,"p":6e-6},
{"s":"blue","k":1521,"p":8.9e-5},{"s":"blue","k":1544,"p":5.0e-5},{"s":"blue","k":1567,"p":6.3e-5},{"s":"blue","k":1590,"p":4.8e-5},{"s":"blue","k":1614,"p":6.7e-5},{"s":"blue","k":1638,"p":3.2e-5},{"s":"blue","k":1662,"p":5.0e-5},{"s":"blue","k":1687,"p":3.4e-5},{"s":"blue","k":1712,"p":4.9e-5},{"s":"blue","k":1734,"p":3.6e-5},
{"s":"blue","k":1751,"p":4.7e-5},{"s":"blue","k":1768,"p":2.5e-5},{"s":"blue","k":1786,"p":3.6e-5},{"s":"blue","k":1803,"p":2.8e-5},{"s":"blue","k":1821,"p":4.2e-5},{"s":"blue","k":1839,"p":1.7e-5},{"s":"blue","k":1857,"p":3.1e-5},{"s":"blue","k":1875,"p":1.8e-5},{"s":"blue","k":1894,"p":2.9e-5},{"s":"blue","k":1913,"p":1.8e-5},
{"s":"blue","k":1932,"p":2.7e-5},{"s":"blue","k":1951,"p":6.8e-6},{"s":"blue","k":1970,"p":1.6e-5},{"s":"blue","k":1990,"p":8.6e-6},{"s":"blue","k":2010,"p":2.15e-5},{"s":"blue","k":2030,"p":1.5e-6},{"s":"blue","k":2050,"p":1.3e-5},{"s":"blue","k":2070,"p":4e-6},{"s":"blue","k":2091,"p":1.2e-5},{"s":"blue","k":2111,"p":5.8e-6},
{"s":"blue","k":2132,"p":1.05e-5},{"s":"blue","k":2153,"p":2e-6},{"s":"blue","k":2175,"p":6.7e-6},{"s":"blue","k":2196,"p":3.7e-6},{"s":"blue","k":2218,"p":9.5e-6},{"s":"blue","k":2240,"p":1e-6},{"s":"blue","k":2262,"p":6.6e-6},{"s":"blue","k":2285,"p":2.5e-6},{"s":"blue","k":2307,"p":6.8e-6},{"s":"blue","k":2330,"p":3.8e-6},
{"s":"blue","k":2353,"p":7.0e-6},{"s":"blue","k":2376,"p":1.6e-6},{"s":"blue","k":2392,"p":4.6e-6},{"s":"blue","k":2411,"p":2.5e-6},

{"s":"orange","k":1,"p":0.0565},{"s":"orange","k":2,"p":0.0491},{"s":"orange","k":3,"p":0.0389},{"s":"orange","k":4,"p":0.0309},{"s":"orange","k":5,"p":0.0253},{"s":"orange","k":6,"p":0.0216},{"s":"orange","k":7,"p":0.0191},{"s":"orange","k":8,"p":0.017},{"s":"orange","k":9,"p":0.0153},{"s":"orange","k":10,"p":0.0139},
{"s":"orange","k":11,"p":0.0123},{"s":"orange","k":12,"p":0.0107},{"s":"orange","k":13,"p":0.00955},{"s":"orange","k":14,"p":0.00871},{"s":"orange","k":15,"p":0.00813},{"s":"orange","k":16,"p":0.00759},{"s":"orange","k":17,"p":0.00708},{"s":"orange","k":18,"p":0.00676},{"s":"orange","k":19,"p":0.00638},{"s":"orange","k":20,"p":0.0061},
{"s":"orange","k":22,"p":0.0055},{"s":"orange","k":24,"p":0.00501},{"s":"orange","k":26,"p":0.00457},{"s":"orange","k":28,"p":0.00422},{"s":"orange","k":30,"p":0.00389},{"s":"orange","k":33,"p":0.00351},{"s":"orange","k":36,"p":0.00316},{"s":"orange","k":40,"p":0.00285},{"s":"orange","k":44,"p":0.0026},{"s":"orange","k":48,"p":0.00229},
{"s":"orange","k":53,"p":0.002},{"s":"orange","k":58,"p":0.00174},{"s":"orange","k":63,"p":0.00155},{"s":"orange","k":69,"p":0.00138},{"s":"orange","k":75,"p":0.00123},{"s":"orange","k":80,"p":0.00114},{"s":"orange","k":85,"p":0.00108},{"s":"orange","k":90,"p":0.00101},{"s":"orange","k":95,"p":0.00097},{"s":"orange","k":100,"p":0.00091},
{"s":"orange","k":105,"p":0.00088},{"s":"orange","k":110,"p":0.00081},{"s":"orange","k":115,"p":0.0008},{"s":"orange","k":120,"p":0.00075},{"s":"orange","k":125,"p":0.00074},{"s":"orange","k":130,"p":0.00069},{"s":"orange","k":135,"p":0.0007},{"s":"orange","k":140,"p":0.00064},{"s":"orange","k":145,"p":0.00066},
{"s":"orange","k":150,"p":6.8e-4},{"s":"orange","k":155,"p":5.87e-4},{"s":"orange","k":160,"p":6.27e-4},{"s":"orange","k":165,"p":5.35e-4},{"s":"orange","k":170,"p":6.3e-4},{"s":"orange","k":175,"p":5.4e-4},{"s":"orange","k":180,"p":5.73e-4},{"s":"orange","k":186,"p":4.8e-4},{"s":"orange","k":192,"p":5.2e-4},{"s":"orange","k":198,"p":4.75e-4},
{"s":"orange","k":204,"p":5.2e-4},{"s":"orange","k":210,"p":4.35e-4},{"s":"orange","k":216,"p":4.7e-4},{"s":"orange","k":223,"p":3.85e-4},{"s":"orange","k":230,"p":4.65e-4},{"s":"orange","k":237,"p":3.9e-4},{"s":"orange","k":244,"p":4.15e-4},{"s":"orange","k":251,"p":3.4e-4},{"s":"orange","k":259,"p":3.7e-4},{"s":"orange","k":267,"p":3.35e-4},
{"s":"orange","k":275,"p":3.7e-4},{"s":"orange","k":283,"p":3.05e-4},{"s":"orange","k":292,"p":3.35e-4},{"s":"orange","k":301,"p":2.75e-4},{"s":"orange","k":310,"p":3.5e-4},{"s":"orange","k":319,"p":2.9e-4},{"s":"orange","k":329,"p":3.2e-4},{"s":"orange","k":339,"p":2.55e-4},{"s":"orange","k":349,"p":2.9e-4},{"s":"orange","k":360,"p":2.55e-4},
{"s":"orange","k":371,"p":2.95e-4},{"s":"orange","k":382,"p":2.35e-4},{"s":"orange","k":393,"p":2.7e-4},{"s":"orange","k":405,"p":2.1e-4},{"s":"orange","k":417,"p":2.85e-4},{"s":"orange","k":430,"p":2.2e-4},{"s":"orange","k":443,"p":2.5e-4},{"s":"orange","k":456,"p":1.8e-4},{"s":"orange","k":470,"p":2.15e-4},{"s":"orange","k":484,"p":1.8e-4},
{"s":"orange","k":499,"p":2.3e-4},{"s":"orange","k":514,"p":1.6e-4},{"s":"orange","k":529,"p":2.05e-4},{"s":"orange","k":545,"p":1.35e-4},{"s":"orange","k":561,"p":2.2e-4},{"s":"orange","k":578,"p":1.55e-4},{"s":"orange","k":595,"p":1.95e-4},{"s":"orange","k":613,"p":1.3e-4},{"s":"orange","k":632,"p":1.8e-4},{"s":"orange","k":651,"p":1.5e-4},
{"s":"orange","k":670,"p":2.15e-4},{"s":"orange","k":690,"p":1.42e-4},{"s":"orange","k":711,"p":1.98e-4},{"s":"orange","k":732,"p":1.24e-4},{"s":"orange","k":754,"p":2.35e-4},{"s":"orange","k":777,"p":1.65e-4},{"s":"orange","k":800,"p":2.15e-4},{"s":"orange","k":824,"p":1.4e-4},{"s":"orange","k":849,"p":2.0e-4},{"s":"orange","k":874,"p":1.65e-4},
{"s":"orange","k":900,"p":2.45e-4},{"s":"orange","k":927,"p":1.55e-4},{"s":"orange","k":955,"p":2.25e-4},{"s":"orange","k":984,"p":1.32e-4},{"s":"orange","k":1013,"p":2.65e-4},{"s":"orange","k":1044,"p":1.7e-4},{"s":"orange","k":1075,"p":2.2e-4},{"s":"orange","k":1107,"p":1.22e-4},{"s":"orange","k":1140,"p":1.8e-4},{"s":"orange","k":1175,"p":1.35e-4},
{"s":"orange","k":1210,"p":2.0e-4},{"s":"orange","k":1246,"p":1.18e-4},{"s":"orange","k":1284,"p":1.75e-4},{"s":"orange","k":1322,"p":9.5e-5},{"s":"orange","k":1362,"p":2.02e-4},{"s":"orange","k":1403,"p":1.32e-4},{"s":"orange","k":1445,"p":1.75e-4},{"s":"orange","k":1488,"p":1.02e-4},{"s":"orange","k":1533,"p":1.47e-4},{"s":"orange","k":1579,"p":1.15e-4},
{"s":"orange","k":1626,"p":1.6e-4},{"s":"orange","k":1675,"p":9.6e-5},{"s":"orange","k":1725,"p":1.28e-4},{"s":"orange","k":1777,"p":7.3e-5},{"s":"orange","k":1830,"p":1.35e-4},{"s":"orange","k":1885,"p":8.6e-5},{"s":"orange","k":1942,"p":1.08e-4},{"s":"orange","k":2000,"p":6.0e-5},{"s":"orange","k":2060,"p":7.3e-5},{"s":"orange","k":2122,"p":3.5e-5},
{"s":"orange","k":2185,"p":4.4e-5},{"s":"orange","k":2251,"p":1.8e-5},{"s":"orange","k":2318,"p":3.5e-5},{"s":"orange","k":2388,"p":4.5e-6},{"s":"orange","k":2460,"p":4.0e-5},{"s":"orange","k":2533,"p":1.3e-5},{"s":"orange","k":2609,"p":2.0e-5},{"s":"orange","k":2688,"p":2.6e-6},{"s":"orange","k":2768,"p":9.7e-6},{"s":"orange","k":2851,"p":4.9e-6},
{"s":"orange","k":2937,"p":1.18e-5},{"s":"orange","k":3025,"p":2.8e-6},{"s":"orange","k":3116,"p":4.5e-6},{"s":"orange","k":3209,"p":1e-6},{"s":"orange","k":3305,"p":3e-6},{"s":"orange","k":3340,"p":1e-6},
{"s":"orange","k":411,"p":2.46e-4},{"s":"orange","k":423,"p":2.76e-4},{"s":"orange","k":436,"p":1.98e-4},{"s":"orange","k":449,"p":2.42e-4},{"s":"orange","k":463,"p":1.7e-4},{"s":"orange","k":477,"p":2.07e-4},{"s":"orange","k":491,"p":1.75e-4},{"s":"orange","k":506,"p":2.25e-4},{"s":"orange","k":521,"p":1.79e-4},{"s":"orange","k":537,"p":1.38e-4},
{"s":"orange","k":553,"p":1.77e-4},{"s":"orange","k":569,"p":2.14e-4},{"s":"orange","k":586,"p":1.36e-4},{"s":"orange","k":604,"p":1.9e-4},{"s":"orange","k":622,"p":1.25e-4},{"s":"orange","k":641,"p":1.75e-4},{"s":"orange","k":660,"p":1.46e-4},{"s":"orange","k":680,"p":2.1e-4},{"s":"orange","k":700,"p":1.64e-4},{"s":"orange","k":721,"p":1.23e-4},
{"s":"orange","k":743,"p":1.78e-4},{"s":"orange","k":765,"p":2.31e-4},{"s":"orange","k":788,"p":1.42e-4},{"s":"orange","k":812,"p":2.13e-4},{"s":"orange","k":836,"p":1.33e-4},{"s":"orange","k":861,"p":1.95e-4},{"s":"orange","k":887,"p":1.6e-4},{"s":"orange","k":913,"p":2.38e-4},{"s":"orange","k":941,"p":1.83e-4},{"s":"orange","k":969,"p":1.31e-4},
{"s":"orange","k":998,"p":2.0e-4},{"s":"orange","k":1028,"p":2.53e-4},{"s":"orange","k":1059,"p":1.41e-4},{"s":"orange","k":1091,"p":2.09e-4},{"s":"orange","k":1123,"p":1.14e-4},{"s":"orange","k":1157,"p":1.68e-4},{"s":"orange","k":1192,"p":1.28e-4},{"s":"orange","k":1228,"p":1.95e-4},{"s":"orange","k":1265,"p":1.41e-4},{"s":"orange","k":1303,"p":9.5e-5},
{"s":"orange","k":1342,"p":1.49e-4},{"s":"orange","k":1382,"p":1.96e-4},{"s":"orange","k":1424,"p":1.1e-4},{"s":"orange","k":1466,"p":1.69e-4},{"s":"orange","k":1510,"p":9.6e-5},{"s":"orange","k":1556,"p":1.4e-4},{"s":"orange","k":1602,"p":1.08e-4},{"s":"orange","k":1650,"p":1.52e-4},{"s":"orange","k":1700,"p":1.09e-4},{"s":"orange","k":1751,"p":7.5e-5},
{"s":"orange","k":1803,"p":1.04e-4},{"s":"orange","k":1857,"p":1.28e-4},{"s":"orange","k":1913,"p":7.0e-5},{"s":"orange","k":1971,"p":1.02e-4},
{"s":"orange","k":2020,"p":1.05e-4},{"s":"orange","k":2040,"p":4.8e-5},{"s":"orange","k":2080,"p":8.5e-5},{"s":"orange","k":2101,"p":3.3e-5},{"s":"orange","k":2143,"p":5.5e-5},{"s":"orange","k":2164,"p":2.0e-5},{"s":"orange","k":2207,"p":3.0e-5},{"s":"orange","k":2229,"p":4.6e-5},{"s":"orange","k":2273,"p":1.3e-5},{"s":"orange","k":2296,"p":4.2e-5},
{"s":"orange","k":2341,"p":9e-6},{"s":"orange","k":2364,"p":4.6e-5},{"s":"orange","k":2412,"p":2.2e-5},{"s":"orange","k":2436,"p":6e-6},{"s":"orange","k":2484,"p":1.6e-5},{"s":"orange","k":2508,"p":3.6e-5},{"s":"orange","k":2558,"p":3.2e-6},{"s":"orange","k":2583,"p":3.0e-5},{"s":"orange","k":2635,"p":8e-6},{"s":"orange","k":2661,"p":1.6e-5},
{"s":"orange","k":2715,"p":1.5e-5},{"s":"orange","k":2741,"p":1.5e-6},{"s":"orange","k":2796,"p":1.4e-5},{"s":"orange","k":2823,"p":2e-6},{"s":"orange","k":2880,"p":1.3e-5},{"s":"orange","k":2908,"p":1e-6},{"s":"orange","k":2966,"p":6e-6},{"s":"orange","k":2995,"p":1.2e-5},{"s":"orange","k":3055,"p":1e-6},{"s":"orange","k":3085,"p":5.5e-6},
{"s":"orange","k":3147,"p":1.2e-6},{"s":"orange","k":3178,"p":4e-6},{"s":"orange","k":3241,"p":3.5e-6},{"s":"orange","k":3273,"p":1e-6},
{"s":"orange","k":2111,"p":6.1e-5},{"s":"orange","k":2132,"p":2.6e-5},{"s":"orange","k":2153,"p":3.9e-5},{"s":"orange","k":2175,"p":2.6e-5},{"s":"orange","k":2196,"p":4.7e-5},{"s":"orange","k":2218,"p":1.3e-5},{"s":"orange","k":2240,"p":3.6e-5},{"s":"orange","k":2262,"p":1.7e-5},{"s":"orange","k":2285,"p":3.9e-5},{"s":"orange","k":2307,"p":2.3e-5},
{"s":"orange","k":2330,"p":4.2e-5},{"s":"orange","k":2353,"p":9.5e-6},{"s":"orange","k":2376,"p":2.9e-5},{"s":"orange","k":2400,"p":1.6e-5},{"s":"orange","k":2424,"p":4.2e-5},{"s":"orange","k":2448,"p":3.2e-6},{"s":"orange","k":2472,"p":2.8e-5},{"s":"orange","k":2496,"p":9.4e-6},{"s":"orange","k":2520,"p":2.8e-5},{"s":"orange","k":2545,"p":1.4e-5},
{"s":"orange","k":2570,"p":2.7e-5},{"s":"orange","k":2596,"p":4.1e-6},{"s":"orange","k":2622,"p":1.5e-5},{"s":"orange","k":2648,"p":7.1e-6},{"s":"orange","k":2674,"p":1.85e-5},{"s":"orange","k":2701,"p":1e-6},{"s":"orange","k":2728,"p":1.2e-5},{"s":"orange","k":2754,"p":4e-6},{"s":"orange","k":2782,"p":1.26e-5},{"s":"orange","k":2810,"p":6.6e-6},
{"s":"orange","k":2837,"p":1.3e-5},{"s":"orange","k":2865,"p":2.3e-6},{"s":"orange","k":2894,"p":8.5e-6},{"s":"orange","k":2922,"p":4.6e-6},{"s":"orange","k":2951,"p":1.25e-5},{"s":"orange","k":2981,"p":1e-6},{"s":"orange","k":3010,"p":7.6e-6},{"s":"orange","k":3040,"p":2.7e-6},{"s":"orange","k":3070,"p":7e-6},{"s":"orange","k":3100,"p":3.4e-6},
{"s":"orange","k":3131,"p":5.1e-6},{"s":"orange","k":3162,"p":1.4e-6},{"s":"orange","k":3193,"p":3.1e-6},{"s":"orange","k":3225,"p":1.8e-6},{"s":"orange","k":3257,"p":3.4e-6},{"s":"orange","k":3289,"p":1e-6},{"s":"orange","k":3322,"p":2.3e-6},

{"s":"black","k":1,"p":0.123},{"s":"black","k":2,"p":0.11},{"s":"black","k":3,"p":0.0955},{"s":"black","k":4,"p":0.0822},{"s":"black","k":5,"p":0.0695},{"s":"black","k":6,"p":0.061},{"s":"black","k":7,"p":0.0537},{"s":"black","k":8,"p":0.0473},{"s":"black","k":9,"p":0.0417},{"s":"black","k":10,"p":0.0372},
{"s":"black","k":11,"p":0.0309},{"s":"black","k":12,"p":0.0263},{"s":"black","k":13,"p":0.0216},{"s":"black","k":14,"p":0.0178},{"s":"black","k":15,"p":0.0145},{"s":"black","k":16,"p":0.0117},{"s":"black","k":17,"p":0.0095},{"s":"black","k":18,"p":0.0078},{"s":"black","k":19,"p":0.0063},{"s":"black","k":20,"p":0.0044},
{"s":"black","k":21,"p":0.0031},{"s":"black","k":22,"p":0.0022},{"s":"black","k":23,"p":0.00148},{"s":"black","k":24,"p":0.00105},{"s":"black","k":25,"p":0.00074},{"s":"black","k":26,"p":0.00048},{"s":"black","k":27,"p":0.0003},{"s":"black","k":28,"p":0.000182},{"s":"black","k":29,"p":0.0001},{"s":"black","k":30,"p":5.9e-5},
{"s":"black","k":31,"p":3.5e-5},{"s":"black","k":32,"p":1.9e-5},{"s":"black","k":33,"p":1.6e-5},{"s":"black","k":34,"p":5.0e-6},{"s":"black","k":35,"p":4.5e-6},{"s":"black","k":36,"p":2.5e-6},{"s":"black","k":37,"p":1e-6}
]},
"resolve": {"axis": {"x": "independent", "y": "independent"}},
"layer": [
{
"mark": {"type": "line", "strokeWidth": 4, "clip": true},
"encoding": {
"x": {"field": "k", "type": "quantitative",
 "scale": {"type": "log", "domain": [1, 10000]},
 "axis": {"orient": "bottom",
  "values": [1,2,3,4,5,6,7,8,9,10,20,30,40,50,60,70,80,90,100,200,300,400,500,600,700,800,900,1000,2000,3000,4000,5000,6000,7000,8000,9000,10000],
  "labelExpr": "abs(log(datum.value)/LN10 - round(log(datum.value)/LN10)) < 0.001 ? '10' + (datum.value < 0.5 ? '⁻' : '') + ['⁰','¹','²','³','⁴','⁵','⁶'][round(abs(log(datum.value)/LN10))] : ''",
  "labelFont": "Liberation Sans", "labelFontSize": 26, "labelColor": "black",
  "labelPadding": 27, "labelOverlap": false, "labelBound": false, "labelFlush": false,
  "labelOffset": {"condition": {"test": "datum.value > 5000", "value": -8}, "value": 0},
  "tickSize": {"condition": {"test": "abs(log(datum.value)/LN10 - round(log(datum.value)/LN10)) < 0.001", "value": -10}, "value": -5},
  "tickWidth": {"condition": {"test": "abs(log(datum.value)/LN10 - round(log(datum.value)/LN10)) < 0.001", "value": 4}, "value": 3},
  "tickColor": "black",
  "domain": true, "domainColor": "black", "domainWidth": 4, "domainCap": "square",
  "grid": false,
  "title": "k", "titleFont": "Liberation Sans", "titleFontSize": 32, "titleFontStyle": "italic", "titleFontWeight": "normal", "titleColor": "black", "titleY": 85, "titleBaseline": "alphabetic",
  "zindex": 1}},
"y": {"field": "p", "type": "quantitative",
 "scale": {"type": "log", "domain": [0.000001, 1]},
 "axis": {"orient": "left",
  "values": [1e-6,2e-6,3e-6,4e-6,5e-6,6e-6,7e-6,8e-6,9e-6,1e-5,2e-5,3e-5,4e-5,5e-5,6e-5,7e-5,8e-5,9e-5,1e-4,2e-4,3e-4,4e-4,5e-4,6e-4,7e-4,8e-4,9e-4,1e-3,2e-3,3e-3,4e-3,5e-3,6e-3,7e-3,8e-3,9e-3,1e-2,2e-2,3e-2,4e-2,5e-2,6e-2,7e-2,8e-2,9e-2,0.1,0.2,0.3,0.4,0.5,0.6,0.7,0.8,0.9,1],
  "labelExpr": "abs(log(datum.value)/LN10 - round(log(datum.value)/LN10)) < 0.001 ? '10' + (datum.value < 0.5 ? '⁻' : '') + ['⁰','¹','²','³','⁴','⁵','⁶'][round(abs(log(datum.value)/LN10))] : ''",
  "labelFont": "Liberation Sans", "labelFontSize": 26, "labelColor": "black",
  "labelPadding": 25, "labelOffset": 6, "labelOverlap": false, "labelBound": false, "labelFlush": false,
  "tickSize": {"condition": {"test": "abs(log(datum.value)/LN10 - round(log(datum.value)/LN10)) < 0.001", "value": -10}, "value": -5},
  "tickWidth": {"condition": {"test": "abs(log(datum.value)/LN10 - round(log(datum.value)/LN10)) < 0.001", "value": 4}, "value": 3},
  "tickColor": "black",
  "domain": true, "domainColor": "black", "domainWidth": 4, "domainCap": "square",
  "grid": false,
  "title": "p(k)", "titleFont": "Liberation Sans", "titleFontSize": 32, "titleFontStyle": "italic", "titleFontWeight": "normal", "titleColor": "black",
  "titleAngle": 0, "titleX": -101, "titleY": 205, "titleAlign": "left", "titleBaseline": "alphabetic",
  "zindex": 1}},
"color": {"field": "s", "type": "nominal",
 "scale": {"domain": ["red","magenta","green","blue","orange","black"], "range": ["#ff0000","#c000c0","#2e8257","#0b86cc","#ffae5e","#000000"]},
 "legend": null}
}
},
{
"mark": {"type": "point", "opacity": 0, "size": 1},
"encoding": {
"x": {"field": "k", "type": "quantitative",
 "scale": {"type": "log", "domain": [1, 10000]},
 "axis": {"orient": "top",
  "values": [1,2,3,4,5,6,7,8,9,10,20,30,40,50,60,70,80,90,100,200,300,400,500,600,700,800,900,1000,2000,3000,4000,5000,6000,7000,8000,9000,10000],
  "labels": false,
  "tickSize": {"condition": {"test": "abs(log(datum.value)/LN10 - round(log(datum.value)/LN10)) < 0.001", "value": -10}, "value": -5},
  "tickWidth": {"condition": {"test": "abs(log(datum.value)/LN10 - round(log(datum.value)/LN10)) < 0.001", "value": 4}, "value": 3},
  "tickColor": "black",
  "domain": true, "domainColor": "black", "domainWidth": 4, "domainCap": "square",
  "grid": false, "title": null, "zindex": 1}},
"y": {"field": "p", "type": "quantitative",
 "scale": {"type": "log", "domain": [0.000001, 1]},
 "axis": {"orient": "right",
  "values": [1e-6,2e-6,3e-6,4e-6,5e-6,6e-6,7e-6,8e-6,9e-6,1e-5,2e-5,3e-5,4e-5,5e-5,6e-5,7e-5,8e-5,9e-5,1e-4,2e-4,3e-4,4e-4,5e-4,6e-4,7e-4,8e-4,9e-4,1e-3,2e-3,3e-3,4e-3,5e-3,6e-3,7e-3,8e-3,9e-3,1e-2,2e-2,3e-2,4e-2,5e-2,6e-2,7e-2,8e-2,9e-2,0.1,0.2,0.3,0.4,0.5,0.6,0.7,0.8,0.9,1],
  "labels": false,
  "tickSize": {"condition": {"test": "abs(log(datum.value)/LN10 - round(log(datum.value)/LN10)) < 0.001", "value": -10}, "value": -5},
  "tickWidth": {"condition": {"test": "abs(log(datum.value)/LN10 - round(log(datum.value)/LN10)) < 0.001", "value": 4}, "value": 3},
  "tickColor": "black",
  "domain": true, "domainColor": "black", "domainWidth": 4, "domainCap": "square",
  "grid": false, "title": null, "zindex": 1}}
}
}
]
}
